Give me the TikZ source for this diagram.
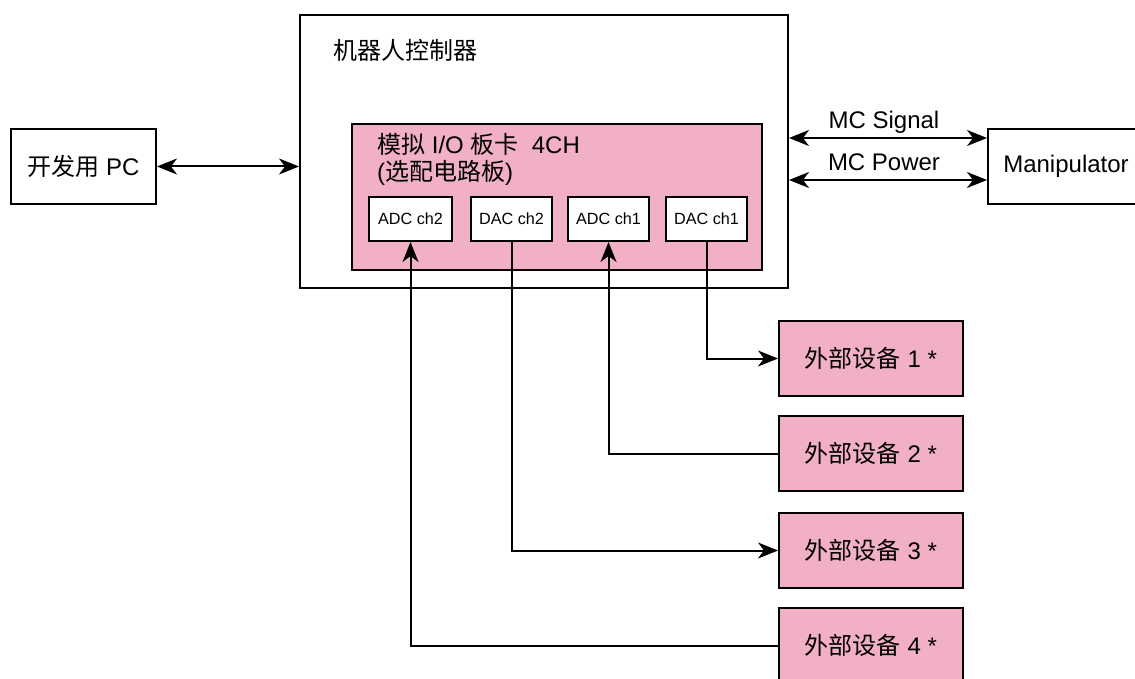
\documentclass[tikz,border=0pt]{standalone}
\usepackage{fontspec}
\setmainfont{Liberation Sans}
\newfontfamily\cjk{Noto Sans CJK SC}
\usetikzlibrary{arrows.meta,calc}
\definecolor{boardpink}{HTML}{F1AFC8}
\begin{document}
\begin{tikzpicture}[x=1pt,y=-1pt,
  frame/.style={draw, line width=2pt, inner sep=0pt, font=\fontsize{24}{27}\selectfont},
  chbox/.style={frame, fill=white, minimum height=44pt, font=\fontsize{16.2}{19}\selectfont},
  devbox/.style={frame, fill=boardpink, minimum width=184pt, minimum height=75pt},
  conn/.style={line width=2pt},
  tip/.style={-{Stealth[length=20pt,width=16pt,inset=6pt]}},
  dbl/.style={{Stealth[length=20pt,width=16pt,inset=6pt]}-{Stealth[length=20pt,width=16pt,inset=6pt]}},
  lbl/.style={inner sep=0pt, font=\fontsize{24}{27}\selectfont}
]
\useasboundingbox (0,0) rectangle (1135,679);
\fill[white] (0,0) rectangle (1135,679);

% controller
\node[frame, minimum width=488pt, minimum height=273pt] (ctrl) at (544,151.5) {};
\node[lbl, anchor=west] (ctrltitle) at (333,50) {\cjk 机器人控制器};

% board
\node[frame, fill=boardpink, minimum width=410pt, minimum height=145pt] (board) at (557,197) {};
\node[lbl, anchor=west, align=left] (boardtitle) at (377,159.5)
  {{\cjk 模拟} I/O {\cjk 板卡}\ \ 4CH\\({\cjk 选配电路板})};

% channels
\node[chbox, minimum width=83pt] (adc2) at (410.5,219) {ADC ch2};
\node[chbox, minimum width=81pt] (dac2) at (511.5,219) {DAC ch2};
\node[chbox, minimum width=81pt] (adc1) at (608.5,219) {ADC ch1};
\node[chbox, minimum width=81pt] (dac1) at (706.5,219) {DAC ch1};

% PC and manipulator
\node[frame, minimum width=145pt, minimum height=75pt] (pc) at (83.5,166.5) {{\cjk 开发用} PC};
\node[frame, minimum width=156pt, minimum height=75pt] (manip) at (1066,166.5) {Manipulator};

% devices
\node[devbox] (dev1) at (871,358.5) {{\cjk 外部设备} 1 *};
\node[devbox] (dev2) at (871,453.5) {{\cjk 外部设备} 2 *};
\node[devbox] (dev3) at (871,550.5) {{\cjk 外部设备} 3 *};
\node[devbox] (dev4) at (871,645.5) {{\cjk 外部设备} 4 *};

% connectors
\draw[conn, dbl] (pc.east) -- (pc.east -| ctrl.west);

\coordinate (sigy) at (0,138);
\coordinate (powy) at (0,180);
\draw[conn, dbl] (ctrl.east |- sigy) -- (manip.west |- sigy);
\draw[conn, dbl] (ctrl.east |- powy) -- (manip.west |- powy);
\node[lbl] (siglbl) at (884,122) {MC Signal};
\node[lbl] (powlbl) at (884,162) {MC Power};

\draw[conn, tip] (dac1.south) |- (dev1.west);
\draw[conn, tip] (dev2.west) -| (adc1.south);
\draw[conn, tip] (dac2.south) |- (dev3.west);
\draw[conn, tip] (dev4.west) -| (adc2.south);
\end{tikzpicture}
\end{document}
